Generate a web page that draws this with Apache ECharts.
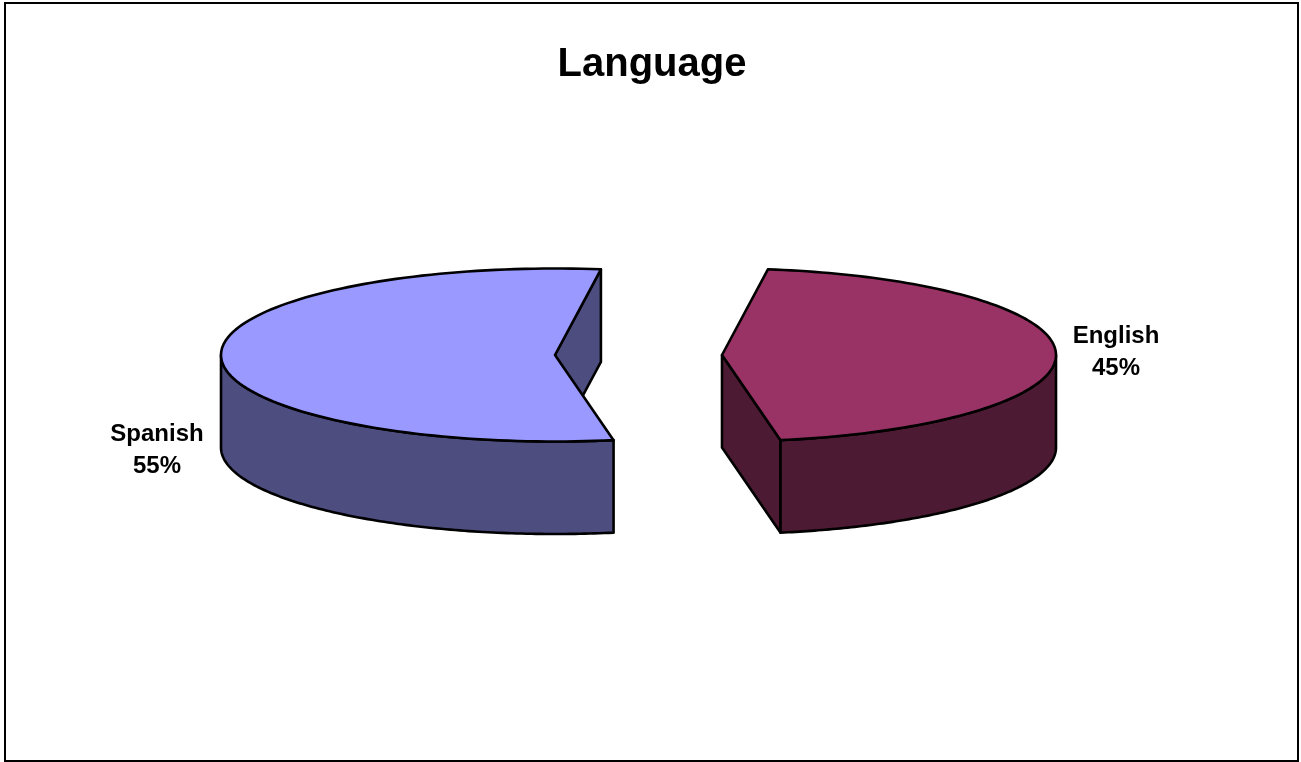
<!DOCTYPE html>
<html>
<head>
<meta charset="utf-8">
<style>html,body{margin:0;padding:0;background:#fff}#c{width:1301px;height:762px}</style>
<script src="https://cdn.jsdelivr.net/npm/echarts@6/dist/echarts.min.js"></script>
</head>
<body>
<div id="c"></div>
<script>
var categories = ['English', 'Spanish'];
var shares = [45, 55];
var chartTitle = 'Language';
var topColors = ['#993366', '#9999FF'];
var wallColors = ['#4D1A33', '#4D4D80'];
var apexX = [722, 555];
var labelPos = [[1116, 352], [157, 450]];

var apexY = 355, rx = 334, ry = 86.5, depth = 92.5, startDeg = 82.1;
var LW = 2.6, FONT = '"Liberation Sans", Arial, sans-serif';

function pt(cx, deg, dy) {
  var t = deg * Math.PI / 180;
  return [cx + rx * Math.cos(t), apexY - ry * Math.sin(t) + (dy || 0)];
}
function arc(cx, from, to, dy) {
  var pts = [], n = 120;
  for (var i = 0; i <= n; i++) pts.push(pt(cx, from + (to - from) * i / n, dy));
  return pts;
}
function poly(points, fill) {
  return { type: 'polygon', shape: { points: points },
    style: { fill: fill, stroke: '#000', lineWidth: LW, lineJoin: 'round' } };
}
var total = shares.reduce(function (a, b) { return a + b; }, 0);

function renderSlice(params, api) {
  var i = params.dataIndex, value = api.value(0);
  var before = 0;
  for (var k = 0; k < i; k++) before += shares[k];
  var from = startDeg - before / total * 360;
  var to = from - value / total * 360;
  var cx = apexX[i];
  var apex = [cx, apexY], apexLow = [cx, apexY + depth];
  var children = [];

  // cut wall at the clockwise end of the slice, visible from the viewer
  children.push(poly([apex, apexLow, pt(cx, to, depth), pt(cx, to)], wallColors[i]));
  // outer front wall: only the part in the lower half of the ellipse
  var f0, f1;
  if (i === 0) { f0 = to; f1 = 0; } else { f0 = -180; f1 = from; }
  var top = arc(cx, f0, f1, 0), bottom = arc(cx, f1, f0, depth);
  children.push(poly(top.concat(bottom), wallColors[i]));
  // top face
  children.push(poly([apex].concat(arc(cx, from, to, 0)), topColors[i]));
  // data label
  children.push({ type: 'text', x: labelPos[i][0], y: labelPos[i][1],
    style: { text: categories[i] + '\n' + Math.round(value / total * 100) + '%',
      fill: '#000', font: 'bold 24px ' + FONT, lineHeight: 32,
      align: 'center', verticalAlign: 'middle' } });
  return { type: 'group', children: children };
}

var chart = echarts.init(document.getElementById('c'), null, { renderer: 'canvas' });
chart.setOption({
  animation: false,
  backgroundColor: '#fff',
  title: { text: chartTitle, left: 647, top: 60, textAlign: 'center', textVerticalAlign: 'middle',
    textStyle: { color: '#000', fontFamily: FONT, fontWeight: 'bold', fontSize: 40 } },
  graphic: [{ type: 'rect', silent: true, z: 10,
    shape: { x: 5, y: 3, width: 1293, height: 758 },
    style: { fill: 'none', stroke: '#000', lineWidth: 2 } }],
  series: [{
    type: 'custom', coordinateSystem: 'none', renderItem: renderSlice,
    data: shares.map(function (v, i) { return { name: categories[i], value: [v] }; })
  }]
});
</script>
</body>
</html>
